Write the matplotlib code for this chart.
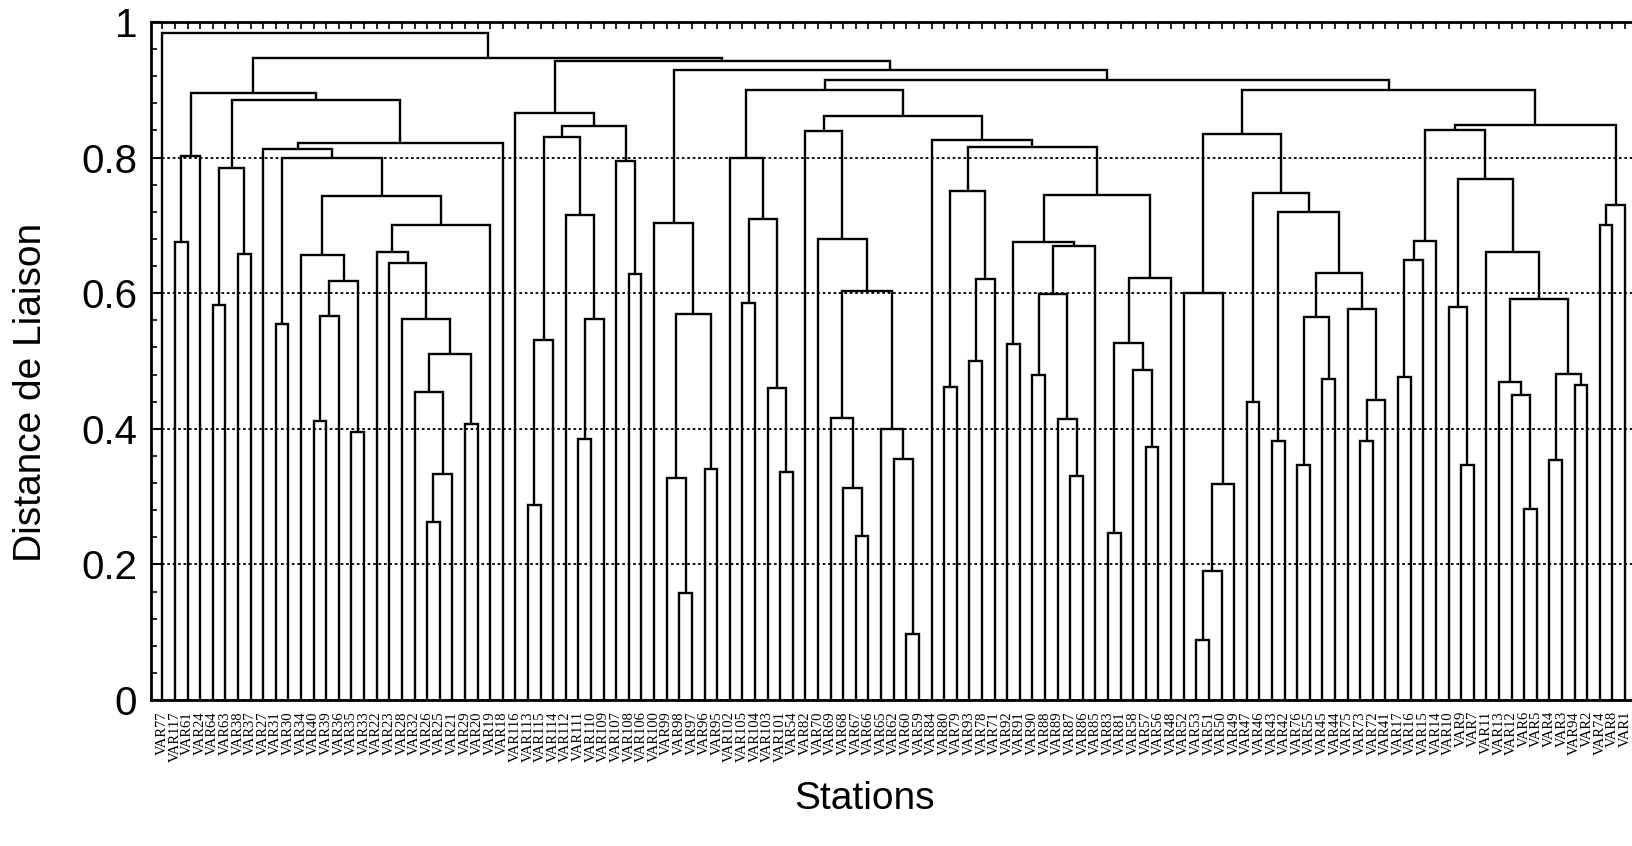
import matplotlib
matplotlib.use("Agg")
import matplotlib.pyplot as plt
from matplotlib.ticker import MultipleLocator

# ---- data -------------------------------------------------------------
leaf_labels = [
    "VAR77", "VAR117", "VAR61", "VAR24", "VAR64", "VAR63", "VAR38", "VAR37",
    "VAR27", "VAR31", "VAR30", "VAR34", "VAR40", "VAR39", "VAR36", "VAR35",
    "VAR33", "VAR22", "VAR23", "VAR28", "VAR32", "VAR26", "VAR25", "VAR21",
    "VAR29", "VAR20", "VAR19", "VAR18", "VAR116", "VAR113", "VAR115", "VAR114",
    "VAR112", "VAR111", "VAR110", "VAR109", "VAR107", "VAR108", "VAR106", "VAR100",
    "VAR99", "VAR98", "VAR97", "VAR96", "VAR95", "VAR102", "VAR105", "VAR104",
    "VAR103", "VAR101", "VAR54", "VAR82", "VAR70", "VAR69", "VAR68", "VAR67",
    "VAR66", "VAR65", "VAR62", "VAR60", "VAR59", "VAR84", "VAR80", "VAR79",
    "VAR93", "VAR78", "VAR71", "VAR92", "VAR91", "VAR90", "VAR88", "VAR89",
    "VAR87", "VAR86", "VAR85", "VAR83", "VAR81", "VAR58", "VAR57", "VAR56",
    "VAR48", "VAR52", "VAR53", "VAR51", "VAR50", "VAR49", "VAR47", "VAR46",
    "VAR43", "VAR42", "VAR76", "VAR55", "VAR45", "VAR44", "VAR75", "VAR73",
    "VAR72", "VAR41", "VAR17", "VAR16", "VAR15", "VAR14", "VAR10", "VAR9",
    "VAR7", "VAR11", "VAR13", "VAR12", "VAR6", "VAR5", "VAR4", "VAR3",
    "VAR94", "VAR2", "VAR74", "VAR8", "VAR1",
]

# merges: (child A, child B, linkage distance); a child is a leaf label
# or the integer index of an earlier merge in this list
merges = [
    ("VAR117", "VAR61", 0.676),   # 0
    (0, "VAR24", 0.802),          # 1
    ("VAR64", "VAR63", 0.583),    # 2
    ("VAR38", "VAR37", 0.658),    # 3
    (2, 3, 0.785),                # 4
    ("VAR31", "VAR30", 0.554),    # 5
    ("VAR40", "VAR39", 0.412),    # 6
    (6, "VAR36", 0.567),          # 7
    ("VAR35", "VAR33", 0.395),    # 8
    (7, 8, 0.618),                # 9
    ("VAR34", 9, 0.656),          # 10
    ("VAR26", "VAR25", 0.263),    # 11
    (11, "VAR21", 0.333),         # 12
    ("VAR32", 12, 0.454),         # 13
    ("VAR29", "VAR20", 0.407),    # 14
    (13, 14, 0.510),              # 15
    ("VAR28", 15, 0.562),         # 16
    ("VAR23", 16, 0.644),         # 17
    ("VAR22", 17, 0.661),         # 18
    (18, "VAR19", 0.700),         # 19
    (10, 19, 0.743),              # 20
    (5, 20, 0.800),               # 21
    ("VAR27", 21, 0.812),         # 22
    (22, "VAR18", 0.822),         # 23
    (4, 23, 0.885),               # 24
    (1, 24, 0.895),               # 25
    ("VAR113", "VAR115", 0.288),  # 26
    (26, "VAR114", 0.531),        # 27
    ("VAR111", "VAR110", 0.385),  # 28
    (28, "VAR109", 0.562),        # 29
    ("VAR112", 29, 0.715),        # 30
    (27, 30, 0.830),              # 31
    ("VAR108", "VAR106", 0.628),  # 32
    ("VAR107", 32, 0.795),        # 33
    (31, 33, 0.846),              # 34
    ("VAR116", 34, 0.866),        # 35
    ("VAR98", "VAR97", 0.158),    # 36
    ("VAR99", 36, 0.328),         # 37
    ("VAR96", "VAR95", 0.340),    # 38
    (37, 38, 0.570),              # 39
    ("VAR100", 39, 0.704),        # 40
    ("VAR101", "VAR54", 0.336),   # 41
    ("VAR103", 41, 0.460),        # 42
    ("VAR105", "VAR104", 0.586),  # 43
    (43, 42, 0.709),              # 44
    ("VAR102", 44, 0.799),        # 45
    ("VAR67", "VAR66", 0.242),    # 46
    ("VAR68", 46, 0.313),         # 47
    ("VAR69", 47, 0.416),         # 48
    ("VAR60", "VAR59", 0.097),    # 49
    ("VAR62", 49, 0.356),         # 50
    ("VAR65", 50, 0.400),         # 51
    (48, 51, 0.603),              # 52
    ("VAR70", 52, 0.680),         # 53
    ("VAR82", 53, 0.839),         # 54
    ("VAR80", "VAR79", 0.461),    # 55
    ("VAR93", "VAR78", 0.500),    # 56
    (56, "VAR71", 0.621),         # 57
    (55, 57, 0.751),              # 58
    ("VAR92", "VAR91", 0.525),    # 59
    ("VAR90", "VAR88", 0.479),    # 60
    ("VAR87", "VAR86", 0.330),    # 61
    ("VAR89", 61, 0.414),         # 62
    (60, 62, 0.599),              # 63
    (63, "VAR85", 0.669),         # 64
    (59, 64, 0.675),              # 65
    ("VAR83", "VAR81", 0.246),    # 66
    ("VAR57", "VAR56", 0.373),    # 67
    ("VAR58", 67, 0.486),         # 68
    (66, 68, 0.526),              # 69
    (69, "VAR48", 0.622),         # 70
    (65, 70, 0.745),              # 71
    (58, 71, 0.816),              # 72
    ("VAR84", 72, 0.826),         # 73
    (54, 73, 0.861),              # 74
    (45, 74, 0.899),              # 75
    ("VAR53", "VAR51", 0.088),    # 76
    (76, "VAR50", 0.190),         # 77
    (77, "VAR49", 0.319),         # 78
    ("VAR52", 78, 0.601),         # 79
    ("VAR47", "VAR46", 0.440),    # 80
    ("VAR43", "VAR42", 0.382),    # 81
    ("VAR76", "VAR55", 0.347),    # 82
    ("VAR45", "VAR44", 0.474),    # 83
    (82, 83, 0.565),              # 84
    ("VAR73", "VAR72", 0.382),    # 85
    (85, "VAR41", 0.443),         # 86
    ("VAR75", 86, 0.577),         # 87
    (84, 87, 0.630),              # 88
    (81, 88, 0.720),              # 89
    (80, 89, 0.748),              # 90
    (79, 90, 0.835),              # 91
    ("VAR17", "VAR16", 0.476),    # 92
    (92, "VAR15", 0.649),         # 93
    (93, "VAR14", 0.677),         # 94
    ("VAR9", "VAR7", 0.347),      # 95
    ("VAR10", 95, 0.580),         # 96
    ("VAR6", "VAR5", 0.282),      # 97
    ("VAR12", 97, 0.450),         # 98
    ("VAR13", 98, 0.469),         # 99
    ("VAR4", "VAR3", 0.354),      # 100
    ("VAR94", "VAR2", 0.465),     # 101
    (100, 101, 0.481),            # 102
    (99, 102, 0.592),             # 103
    ("VAR11", 103, 0.661),        # 104
    (96, 104, 0.768),             # 105
    (94, 105, 0.840),             # 106
    ("VAR74", "VAR8", 0.700),     # 107
    (107, "VAR1", 0.730),         # 108
    (106, 108, 0.848),            # 109
    (91, 109, 0.899),             # 110
    (75, 110, 0.915),             # 111
    (40, 111, 0.929),             # 112
    (35, 112, 0.943),             # 113
    (25, 113, 0.947),             # 114
    ("VAR77", 114, 0.984),        # 115
]

y_ticks = [0, 0.2, 0.4, 0.6, 0.8, 1.0]
y_tick_labels = ["0", "0.2", "0.4", "0.6", "0.8", "1"]

# ---- figure -----------------------------------------------------------
W, H = 1632, 846
fig = plt.figure(figsize=(W / 100, H / 100), dpi=100)
ax_left, ax_right, ax_top, ax_bot = 151, 1652, 22, 700
ax = fig.add_axes([ax_left / W, 1 - ax_bot / H, (ax_right - ax_left) / W,
                   (ax_bot - ax_top) / H])

leaf0_px, step_px = 162.3, 12.61
ax.set_xlim((ax_left - leaf0_px) / step_px, (ax_right - leaf0_px) / step_px)
ax.set_ylim(0, 1)

pos = {lab: i for i, lab in enumerate(leaf_labels)}
node_x, node_h = [], []


def coord(c):
    if isinstance(c, str):
        return pos[c], 0.0
    return node_x[c], node_h[c]


for a, b, h in merges:
    xa, ha = coord(a)
    xb, hb = coord(b)
    ax.plot([xa, xa, xb, xb], [ha, h, h, hb], color="black", lw=1.7,
            solid_joinstyle="miter", solid_capstyle="butt", zorder=3)
    node_x.append((xa + xb) / 2)
    node_h.append(h)

# grid
ax.yaxis.grid(True, which="major", linestyle=(0, (1.5, 1.5)), color="black",
              lw=1.3, zorder=1)
ax.xaxis.grid(False)

# y axis
ax.set_yticks(y_ticks)
ax.set_yticklabels(y_tick_labels, fontsize=29, family="Liberation Sans")
ax.yaxis.set_minor_locator(MultipleLocator(0.04))
ax.tick_params(axis="y", which="major", direction="in", length=7, width=1.5,
               pad=10, right=False)
ax.tick_params(axis="y", which="minor", direction="in", length=4, width=1.2,
               right=False)

# x axis
ax.set_xticks(range(len(leaf_labels)))
ax.set_xticklabels(leaf_labels, rotation=90, fontsize=10.5,
                   family="Liberation Serif")
ax.tick_params(axis="x", which="major", direction="in", length=5, width=1.2,
               top=True, bottom=False, pad=8)

for s in ["left", "top", "bottom"]:
    ax.spines[s].set_linewidth(2.0)
ax.spines["right"].set_visible(False)

ax.set_ylabel("Distance de Liaison", fontsize=28, family="Liberation Sans")
ax.yaxis.label.set_va("center")
ax.yaxis.set_label_coords((31 - ax_left) / (ax_right - ax_left),
                          1 - (392 - ax_top) / (ax_bot - ax_top))
ax.set_xlabel("Stations", fontsize=28, family="Liberation Sans")
ax.xaxis.label.set_va("center")
ax.xaxis.set_label_coords((864 - ax_left) / (ax_right - ax_left),
                          -(799 - ax_bot) / (ax_bot - ax_top))

fig.savefig("out.png", dpi=100)
